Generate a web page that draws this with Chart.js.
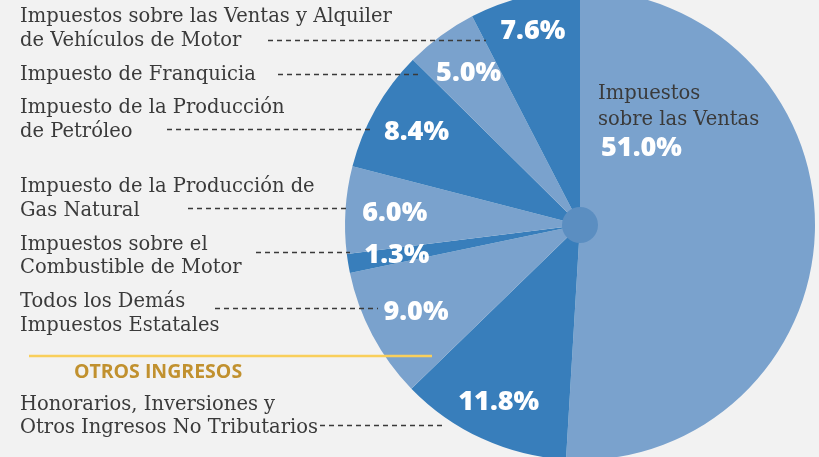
<!DOCTYPE html>
<html>
<head>
<meta charset="utf-8">
<script src="https://cdn.jsdelivr.net/npm/chart.js@4.4.1/dist/chart.umd.min.js"></script>
<style>
  html, body { margin: 0; padding: 0; background: #f2f2f2; overflow: hidden; }
  #wrap { position: absolute; left: 0; top: -10px; width: 819px; height: 480px; }
</style>
</head>
<body>
<div id="wrap"><canvas id="pie" width="819" height="480"></canvas></div>
<script>
// slices, clockwise from 12 o'clock
const categories = [
  ['Impuestos', 'sobre las Ventas'],
  ['Honorarios, Inversiones y', 'Otros Ingresos No Tributarios'],
  ['Todos los Demás', 'Impuestos Estatales'],
  ['Impuestos sobre el', 'Combustible de Motor'],
  ['Impuesto de la Producción de', 'Gas Natural'],
  ['Impuesto de la Producción', 'de Petróleo'],
  ['Impuesto de Franquicia'],
  ['Impuestos sobre las Ventas y Alquiler', 'de Vehículos de Motor']
];
const shares = [51.0, 11.8, 9.0, 1.3, 6.0, 8.4, 5.0, 7.6];
const sectionTitle = 'OTROS INGRESOS';

const LIGHT = '#7aa2cd';
const DARK = '#387ebb';
const sliceColors = shares.map((v, i) => i % 2 === 0 ? LIGHT : DARK);

// where the callout text sits on the left (page coords): baselines + leader line
const callouts = {
  7: { base: [22, 46], lead: [268, 486, 40] },
  6: { base: [80], lead: [278, 420, 74] },
  5: { base: [113, 137], lead: [167, 374, 129] },
  4: { base: [192, 216], lead: [188, 346, 208] },
  3: { base: [250, 273], lead: [256, 350, 252] },
  2: { base: [307, 331], lead: [215, 378, 308] },
  1: { base: [410, 433], lead: [320, 442, 425] }
};
const labelRadius = [0, 0.83, 0.79, 0.79, 0.79, 0.8, 0.8, 0.85];

const SERIF = '19.5px "DejaVu Serif"';

const labelPlugin = {
  id: 'labels',
  afterDatasetsDraw(chart) {
    const ctx = chart.ctx;
    const arcs = chart.getDatasetMeta(0).data;
    const cx = arcs[0].x, cy = arcs[0].y, R = arcs[0].outerRadius;

    ctx.save();
    // hub
    ctx.fillStyle = '#5b8ec1';
    ctx.beginPath();
    ctx.arc(cx, cy, 18, 0, Math.PI * 2);
    ctx.fill();

    ctx.translate(0, 10); // canvas sits 10px above the page

    // leader lines
    ctx.strokeStyle = '#3a3a3a';
    ctx.lineWidth = 1.3;
    ctx.setLineDash([5, 4]);
    Object.keys(callouts).forEach(k => {
      const l = callouts[k].lead;
      ctx.beginPath();
      ctx.moveTo(l[0], l[2] + 0.5);
      ctx.lineTo(l[1], l[2] + 0.5);
      ctx.stroke();
    });
    ctx.setLineDash([]);

    // left side texts
    ctx.fillStyle = '#3a3a3a';
    ctx.font = SERIF;
    ctx.textAlign = 'left';
    ctx.textBaseline = 'alphabetic';
    Object.keys(callouts).forEach(k => {
      categories[k].forEach((line, j) => ctx.fillText(line, 20, callouts[k].base[j]));
    });

    // gold separator + section title
    ctx.strokeStyle = '#f9cf5b';
    ctx.lineWidth = 2.5;
    ctx.beginPath();
    ctx.moveTo(29, 356);
    ctx.lineTo(432, 356);
    ctx.stroke();
    ctx.fillStyle = '#c1912f';
    ctx.font = 'bold 19.5px "Open Sans"';
    ctx.textAlign = 'center';
    ctx.fillText(sectionTitle, 158, 378);

    // largest slice: name inside
    ctx.fillStyle = '#3a3a3a';
    ctx.font = SERIF;
    ctx.textAlign = 'left';
    ctx.fillText(categories[0][0], 598, 99);
    ctx.fillText(categories[0][1], 598, 125);
    ctx.restore();

    // percentages
    ctx.save();
    ctx.fillStyle = '#ffffff';
    ctx.font = '800 27px "Open Sans"';
    ctx.textBaseline = 'middle';
    ctx.textAlign = 'center';
    arcs.forEach((a, i) => {
      const txt = shares[i].toFixed(1) + '%';
      if (i === 0) {
        ctx.textAlign = 'left';
        ctx.fillText(txt, 601, 148 + 10);
        ctx.textAlign = 'center';
        return;
      }
      const mid = (a.startAngle + a.endAngle) / 2;
      const r = R * labelRadius[i];
      ctx.fillText(txt, cx + Math.cos(mid) * r, cy + Math.sin(mid) * r);
    });
    ctx.restore();
  }
};

new Chart(document.getElementById('pie'), {
  type: 'pie',
  data: {
    labels: categories,
    datasets: [{
      data: shares,
      backgroundColor: sliceColors,
      borderWidth: 0
    }]
  },
  options: {
    responsive: false,
    animation: false,
    layout: { padding: { left: 345, right: 4, top: 0, bottom: 10 } },
    plugins: {
      legend: { display: false },
      tooltip: { enabled: false }
    }
  },
  plugins: [labelPlugin]
});
</script>
</body>
</html>
